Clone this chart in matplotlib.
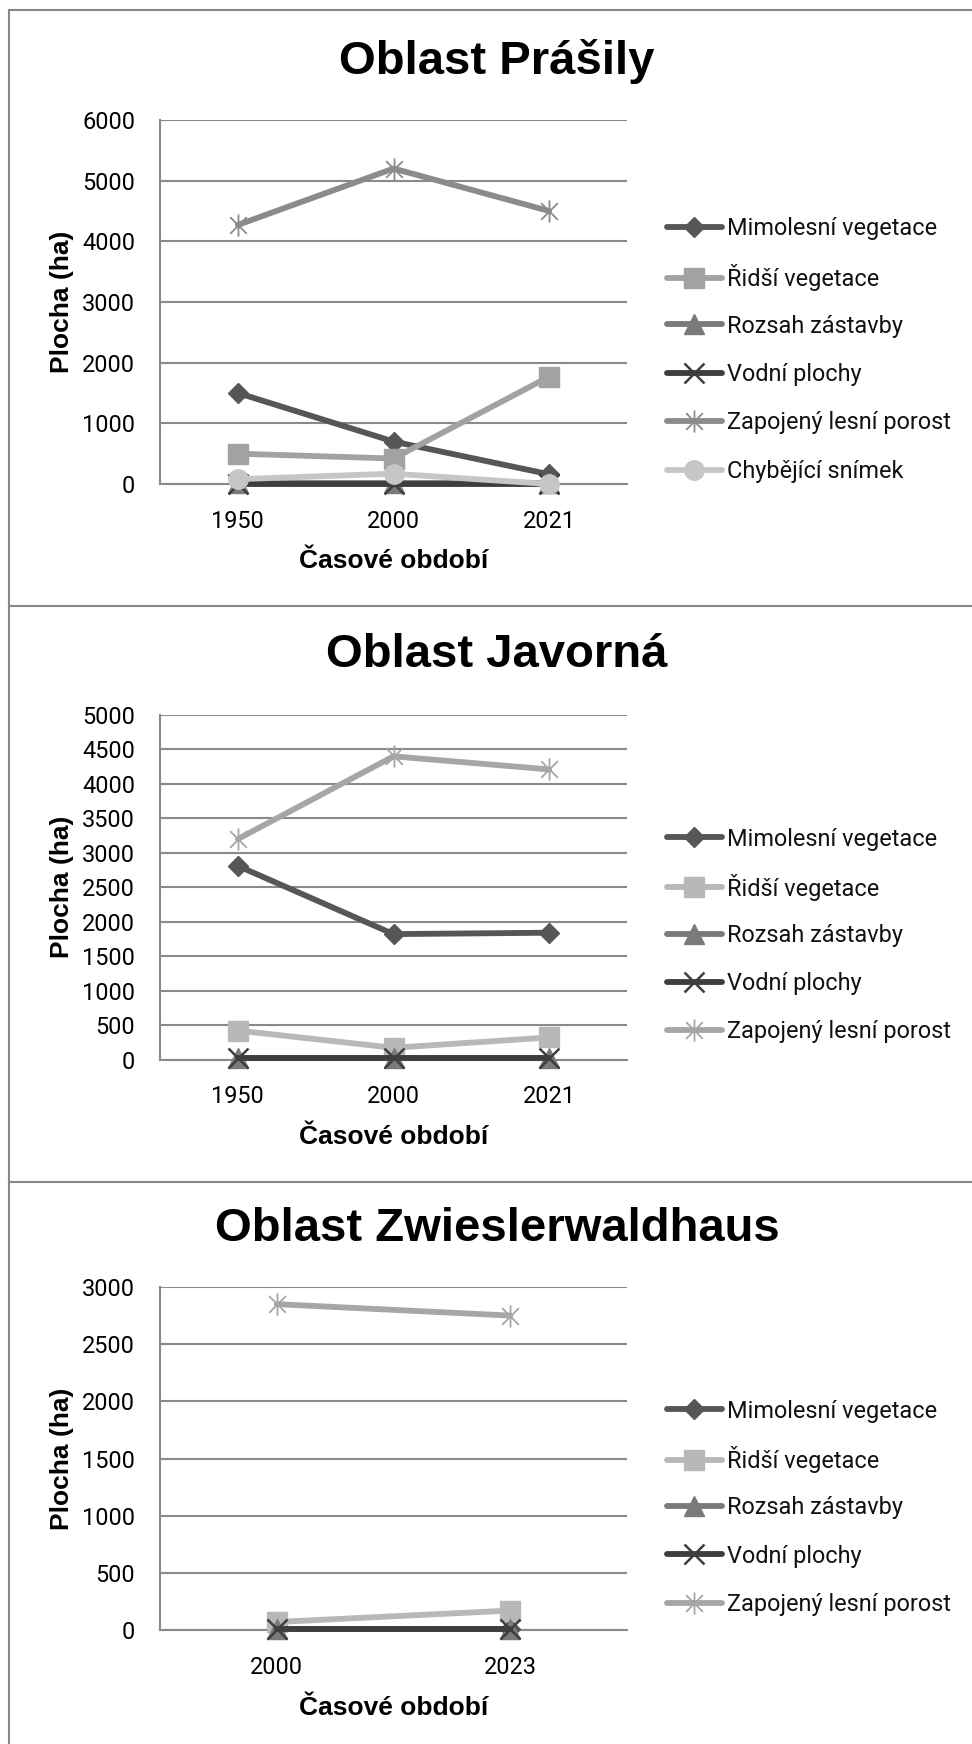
import matplotlib
matplotlib.use("Agg")
import matplotlib.pyplot as plt
from matplotlib.lines import Line2D
from matplotlib.path import Path

# ---------------- data ----------------
series_names = ["Mimolesní vegetace", "Řidší vegetace", "Rozsah zástavby",
                "Vodní plochy", "Zapojený lesní porost", "Chybějící snímek"]

years_prasily = ["1950", "2000", "2021"]
mimolesni_prasily = [1500, 700, 160]
ridsi_prasily = [500, 420, 1770]
rozsah_prasily = [10, 10, 10]
vodni_prasily = [5, 5, 5]
zapojeny_prasily = [4270, 5200, 4500]
chybejici_prasily = [80, 170, 0]

years_javorna = ["1950", "2000", "2021"]
mimolesni_javorna = [2810, 1820, 1840]
ridsi_javorna = [420, 170, 320]
rozsah_javorna = [20, 20, 20]
vodni_javorna = [15, 15, 15]
zapojeny_javorna = [3200, 4400, 4210]

years_zwiesel = ["2000", "2023"]
mimolesni_zwiesel = [10, 10]
ridsi_zwiesel = [70, 170]
rozsah_zwiesel = [10, 10]
vodni_zwiesel = [5, 5]
zapojeny_zwiesel = [2850, 2750]

titles = ["Oblast Prášily", "Oblast Javorná", "Oblast Zwieslerwaldhaus"]
y_max = [6000, 5000, 3000]
y_step = [1000, 500, 500]

# ---------------- styles ----------------
W, H = 972, 1744
fig = plt.figure(figsize=(W / 100, H / 100), dpi=100)

TICK_FONT = "Roboto"
BOLD_FONT = "Liberation Sans"
GRID = "#8a8a8a"


def fx(px):
    return px / W


def fy(py):
    return 1 - py / H


# Excel-like star: X plus a vertical bar
star_path = Path([(0, -1), (0, 1), (-0.75, -0.75), (0.75, 0.75),
                  (-0.75, 0.75), (0.75, -0.75)],
                 [Path.MOVETO, Path.LINETO, Path.MOVETO, Path.LINETO,
                  Path.MOVETO, Path.LINETO])

marker_style = {
    "Mimolesní vegetace": dict(marker="D", ms=10),
    "Řidší vegetace": dict(marker="s", ms=14),
    "Rozsah zástavby": dict(marker="^", ms=14),
    "Vodní plochy": dict(marker="x", ms=14, mew=1.8),
    "Zapojený lesní porost": dict(marker=star_path, ms=16, mew=1.3),
    "Chybějící snímek": dict(marker="o", ms=14),
}

colors_panels = [
    {"Mimolesní vegetace": "#565656", "Řidší vegetace": "#a2a2a2",
     "Rozsah zástavby": "#7a7a7a", "Vodní plochy": "#3e3e3e",
     "Zapojený lesní porost": "#8b8b8b", "Chybějící snímek": "#c6c6c6"},
    {"Mimolesní vegetace": "#565656", "Řidší vegetace": "#b8b8b8",
     "Rozsah zástavby": "#7a7a7a", "Vodní plochy": "#3e3e3e",
     "Zapojený lesní porost": "#a6a6a6"},
    {"Mimolesní vegetace": "#565656", "Řidší vegetace": "#b8b8b8",
     "Rozsah zástavby": "#7a7a7a", "Vodní plochy": "#3e3e3e",
     "Zapojený lesní porost": "#a6a6a6"},
]

panels = [
    (years_prasily, [mimolesni_prasily, ridsi_prasily, rozsah_prasily,
                     vodni_prasily, zapojeny_prasily, chybejici_prasily]),
    (years_javorna, [mimolesni_javorna, ridsi_javorna, rozsah_javorna,
                     vodni_javorna, zapojeny_javorna]),
    (years_zwiesel, [mimolesni_zwiesel, ridsi_zwiesel, rozsah_zwiesel,
                     vodni_zwiesel, zapojeny_zwiesel]),
]

ax_left, ax_right = 160, 627
layout = [
    dict(top=120, bottom=484, title_y=61, xlab_y=561, leg_y=229, leg_dy=48.5),
    dict(top=715, bottom=1059.5, title_y=655, xlab_y=1136.5, leg_y=839, leg_dy=48.2),
    dict(top=1287, bottom=1630, title_y=1229, xlab_y=1708, leg_y=1411, leg_dy=48.4),
]

for i, ((years, values), lay) in enumerate(zip(panels, layout)):
    ax = fig.add_axes([fx(ax_left), fy(lay["bottom"]),
                       (ax_right - ax_left) / W, (lay["bottom"] - lay["top"]) / H])
    cols = colors_panels[i]
    x = list(range(len(years)))
    handles = []
    for name, vals in zip(series_names, values):
        st = marker_style[name]
        c = cols[name]
        ln, = ax.plot(x, vals, color=c, lw=4.2, marker=st["marker"], ms=st["ms"],
                      mew=st.get("mew", 1), mec=c, mfc=c, clip_on=False,
                      solid_capstyle="round", zorder=3)
        handles.append(ln)
    ax.set_xlim(-0.5, len(years) - 0.5)
    ax.set_ylim(0, y_max[i])
    yt = list(range(0, y_max[i] + 1, y_step[i]))
    ax.set_yticks(yt)
    ax.set_yticklabels([str(v) for v in yt], fontfamily=TICK_FONT, fontsize=16.9)
    ax.set_xticks(x)
    ax.set_xticklabels(years, fontfamily=TICK_FONT, fontsize=16.9)
    ax.tick_params(axis="y", length=0, pad=18)
    ax.tick_params(axis="x", length=0, pad=18.5)
    ax.grid(axis="y", color=GRID, lw=1.5, zorder=0)
    ax.set_axisbelow(True)
    for s in ["top", "right"]:
        ax.spines[s].set_visible(False)
    ax.spines["left"].set_color(GRID)
    ax.spines["left"].set_linewidth(1.5)
    ax.spines["bottom"].set_color(GRID)
    ax.spines["bottom"].set_linewidth(1.5)

    fig.text(fx(497), fy(lay["title_y"]), titles[i], ha="center", va="center",
             fontfamily=BOLD_FONT, fontweight="bold", fontsize=34)
    fig.text(fx((ax_left + ax_right) / 2), fy(lay["xlab_y"]), "Časové období",
             ha="center", va="center", fontfamily=BOLD_FONT, fontweight="bold",
             fontsize=19)
    fig.text(fx(62), fy((lay["top"] + lay["bottom"]) / 2), "Plocha (ha)",
             ha="center", va="center", rotation=90, fontfamily=BOLD_FONT,
             fontweight="bold", fontsize=19)

    # one legend per entry so that rows are evenly spaced like in Excel
    for k, (h, lab) in enumerate(zip(handles, series_names)):
        row_y = lay["leg_y"] + k * lay["leg_dy"]
        leg = fig.legend([h], [lab], loc="center left",
                         bbox_to_anchor=(fx(667), fy(row_y)),
                         bbox_transform=fig.transFigure, frameon=False,
                         borderpad=0, borderaxespad=0, handlelength=2.34,
                         handletextpad=0.22, numpoints=1,
                         prop={"family": TICK_FONT, "size": 16.9})
        for t in leg.get_texts():
            t.set_color("#111111")

# panel borders
border = dict(color="#878787", lw=1.5, transform=fig.transFigure)
fig.add_artist(Line2D([fx(9), fx(9)], [fy(10), 0], **border))
fig.add_artist(Line2D([fx(9), 1], [fy(10.5), fy(10.5)], **border))
fig.add_artist(Line2D([fx(9), 1], [fy(606), fy(606)], **border))
fig.add_artist(Line2D([fx(9), 1], [fy(1181.5), fy(1181.5)], **border))

fig.savefig("out.png", dpi=100, facecolor="white")
